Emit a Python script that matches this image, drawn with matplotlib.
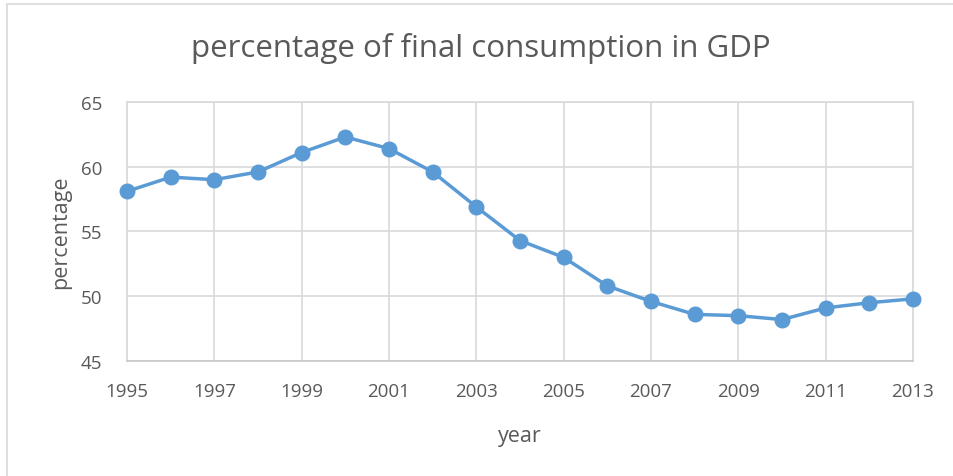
import matplotlib.pyplot as plt
from matplotlib.patches import Rectangle

years = list(range(1995, 2014))
share = [58.1, 59.2, 59.0, 59.6, 61.1, 62.3, 61.4, 59.6, 56.9, 54.3,
         53.0, 50.8, 49.6, 48.6, 48.5, 48.2, 49.1, 49.5, 49.8]
x_ticks = list(range(1995, 2014, 2))
y_ticks = [45, 50, 55, 60, 65]

plt.rcParams['font.family'] = ['Open Sans', 'DejaVu Sans']
txt = '#595959'
grid = '#D9D9D9'

fig = plt.figure(figsize=(9.54, 4.77), dpi=100)
ax = fig.add_axes([127 / 954, 1 - 362 / 477, (913 - 127) / 954, (362 - 103) / 477])

ax.plot(years, share, color='#5B9BD5', linewidth=2.5,
        marker='o', markersize=10.5, clip_on=False, zorder=3)

ax.set_xlim(1995, 2013)
ax.set_ylim(45, 65)
ax.set_xticks(x_ticks)
ax.set_yticks(y_ticks)
ax.grid(True, color=grid, linewidth=1.2)
ax.set_axisbelow(True)
for s in ax.spines.values():
    s.set_color(grid)
    s.set_linewidth(1.2)
ax.spines['bottom'].set_color('#C8C8C8')
ax.tick_params(length=0, labelsize=13.5, labelcolor=txt)
ax.tick_params(axis='x', pad=15)
ax.tick_params(axis='y', pad=18)

ax.set_xlabel('year', fontsize=15.5, color=txt, labelpad=18)
ax.set_ylabel('percentage', fontsize=15.5, color=txt, labelpad=7)
fig.text(0.504, 1 - 48 / 477, 'percentage of final consumption in GDP',
         fontsize=22.5, color=txt, ha='center', va='center')

fig.add_artist(Rectangle((7 / 954, -0.1), 1.2, 1 - 5 / 477 + 0.1,
                         transform=fig.transFigure, fill=False,
                         edgecolor=grid, linewidth=1.2))

fig.savefig('out.png', dpi=100)
